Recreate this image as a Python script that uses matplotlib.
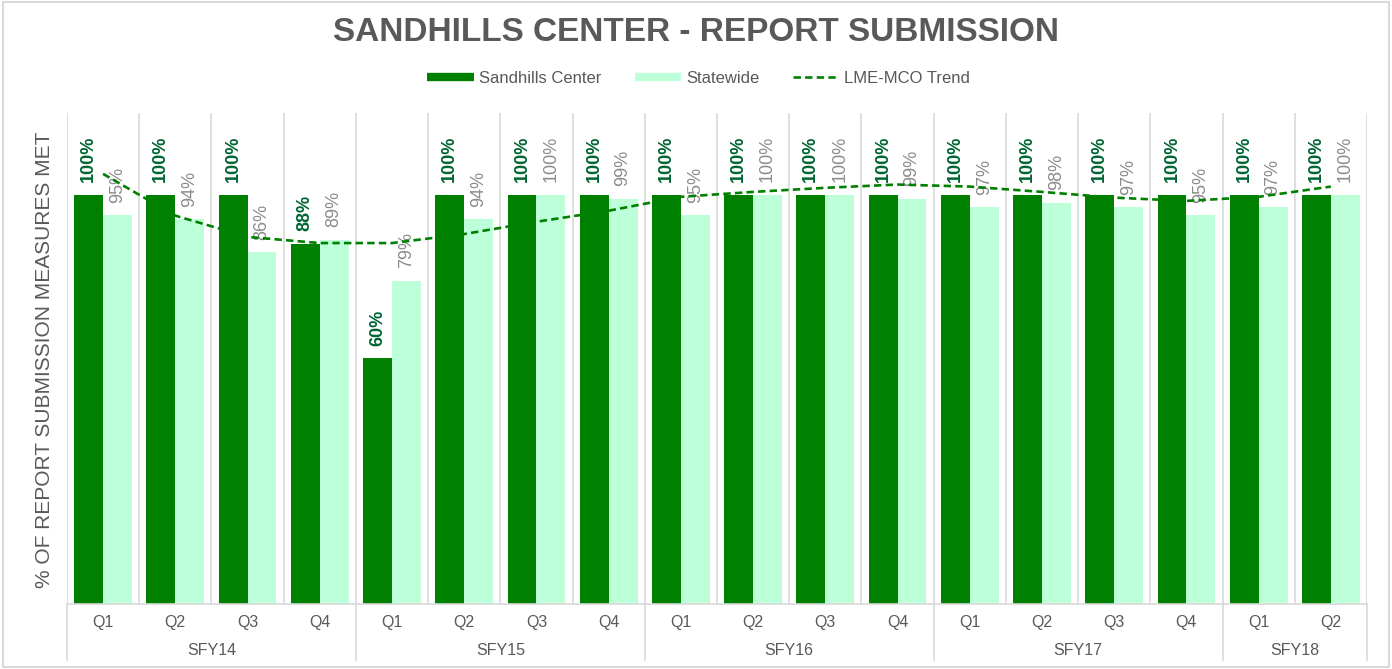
import matplotlib
matplotlib.use("Agg")
import matplotlib.pyplot as plt
from matplotlib.lines import Line2D
from matplotlib.patches import Rectangle
import numpy as np

plt.rcParams['font.family'] = ['Liberation Sans', 'DejaVu Sans']

# chart data
years = ["SFY14", "SFY15", "SFY16", "SFY17", "SFY18"]
quarters = ["Q1", "Q2", "Q3", "Q4", "Q1", "Q2", "Q3", "Q4", "Q1", "Q2", "Q3", "Q4",
            "Q1", "Q2", "Q3", "Q4", "Q1", "Q2"]
quarters_per_year = [4, 4, 4, 4, 2]
sandhills = [1.00, 1.00, 1.00, 0.88, 0.60, 1.00, 1.00, 1.00, 1.00, 1.00, 1.00, 1.00,
             1.00, 1.00, 1.00, 1.00, 1.00, 1.00]
statewide = [0.95, 0.94, 0.86, 0.89, 0.79, 0.94, 1.00, 0.99, 0.95, 1.00, 1.00, 0.99,
             0.97, 0.98, 0.97, 0.95, 0.97, 1.00]
# trend line values as read at each quarter
trend = [1.051, 0.949, 0.897, 0.882, 0.882, 0.904, 0.934, 0.961, 0.995, 1.007, 1.017,
         1.025, 1.020, 1.007, 0.993, 0.985, 0.995, 1.020]

dark_green = "#008000"
light_green = "#bdffd9"
label_dark = "#006633"
label_gray = "#8c8c8c"
text_gray = "#595959"
grid_gray = "#d9d9d9"

fig = plt.figure(figsize=(13.92, 6.69), dpi=100)
ax = fig.add_axes([0.0481, 0.0972, 0.9339, 0.7340])

x = np.arange(len(quarters))
w = 0.4
bars1 = ax.bar(x - w / 2, sandhills, w, color=dark_green, zorder=2)
bars2 = ax.bar(x + w / 2, statewide, w, color=light_green, zorder=2)

# rotated value labels above bars
for b, v in zip(bars1, sandhills):
    ax.annotate(f"{v:.0%}", (b.get_x() + b.get_width() / 2, b.get_height()),
                xytext=(0, 9), textcoords="offset points", rotation=90,
                ha="center", va="bottom", fontsize=13, fontweight="bold",
                color=label_dark, zorder=3)
for b, v in zip(bars2, statewide):
    ax.annotate(f"{v:.0%}", (b.get_x() + b.get_width() / 2, b.get_height()),
                xytext=(0, 9), textcoords="offset points", rotation=90,
                ha="center", va="bottom", fontsize=13, color=label_gray, zorder=3)

ax.plot(x, trend, color=dark_green, lw=1.9, ls=(0, (2.8, 1.6)), zorder=4)

ax.set_xlim(-0.5, len(quarters) - 0.5)
ax.set_ylim(0, 1.2)
ax.set_yticks([])
ax.set_xticks([])
for s in ["top", "right", "left"]:
    ax.spines[s].set_visible(False)
ax.spines["bottom"].set_color(grid_gray)
ax.spines["bottom"].set_linewidth(1.2)

# vertical gridlines between quarters
for b in np.arange(-0.5, len(quarters), 1.0):
    ax.axvline(b, color=grid_gray, lw=1.2, zorder=1)

# quarter and year labels under the axis
trans = ax.get_xaxis_transform()
for i, q in enumerate(quarters):
    ax.text(i, -0.037, q, transform=trans, ha="center", va="center",
            fontsize=11.5, color=text_gray)
start = 0
edges = [-0.5]
for yr, n in zip(years, quarters_per_year):
    ax.text(start + (n - 1) / 2, -0.094, yr, transform=trans, ha="center",
            va="center", fontsize=11.5, color=text_gray)
    start += n
    edges.append(start - 0.5)
for e in edges:
    ax.plot([e, e], [0, -0.114], transform=trans, color=grid_gray, lw=1.2,
            clip_on=False)

fig.text(0.5, 0.951, "SANDHILLS CENTER - REPORT SUBMISSION", ha="center",
         va="center", fontsize=24, fontweight="bold", color=text_gray)
fig.text(0.0323, 0.462, "% OF REPORT SUBMISSION MEASURES MET", rotation=90,
         ha="center", va="center", fontsize=15, color=text_gray)

handles = [Line2D([], [], color=dark_green, lw=6, solid_capstyle="butt"),
           Line2D([], [], color=light_green, lw=6, solid_capstyle="butt"),
           Line2D([], [], color=dark_green, lw=1.9, ls=(0, (2.8, 1.6)))]
leg = fig.legend(handles, ["Sandhills Center", "Statewide", "LME-MCO Trend"],
                 loc="center", bbox_to_anchor=(0.502, 0.883), ncol=3, frameon=False,
                 fontsize=12, handlelength=2.8, handletextpad=0.3, columnspacing=2.0)
for t in leg.get_texts():
    t.set_color(text_gray)

# light border round the chart
fig.patches.append(Rectangle((0.002, 0.003), 0.996, 0.994, transform=fig.transFigure,
                             fill=False, edgecolor=grid_gray, lw=1.5))

fig.savefig("out.png", dpi=100)
